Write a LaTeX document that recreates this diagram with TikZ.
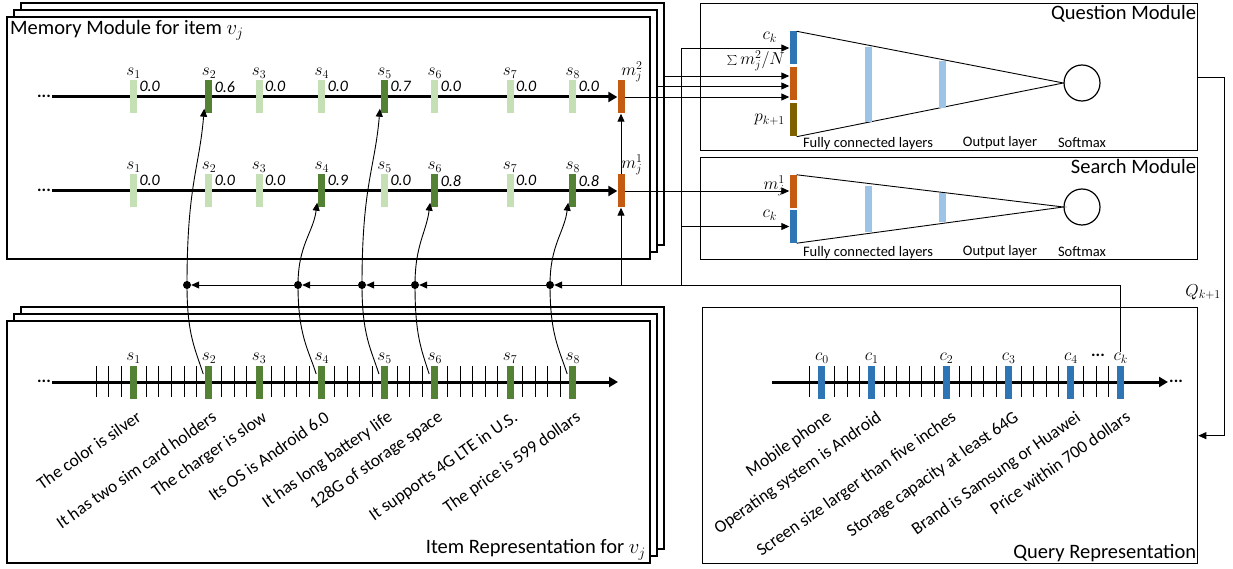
\documentclass[tikz,border=0pt]{standalone}
\usepackage{fontspec}
\setmainfont{Carlito}
\usetikzlibrary{positioning,arrows.meta}

\definecolor{palegreen}{HTML}{C5E0B4}
\definecolor{leafgreen}{HTML}{548235}
\definecolor{rust}{HTML}{C55A11}
\definecolor{steel}{HTML}{2E75B6}
\definecolor{paleblue}{HTML}{9DC3E6}
\definecolor{mud}{HTML}{7F6000}

\begin{document}
\begin{tikzpicture}[x=1pt,y=-1pt,
  modbox/.style={draw,line width=1.3pt,fill=white},
  title/.style={font=\fontsize{20.5}{24}\selectfont,inner sep=2pt},
  bar/.style={fill=#1,minimum width=7pt,minimum height=33pt,inner sep=0pt},
  layer/.style={fill=paleblue,minimum width=7pt,inner sep=0pt},
  tick/.style={line width=0.7pt},
  axis/.style={line width=3pt,-{Triangle[length=9pt,width=10pt]}},
  wire/.style={line width=0.9pt},
  feed/.style={wire,-{Triangle[length=8pt,width=7pt]}},
  jdot/.style={circle,fill,inner sep=0pt,minimum size=8pt},
  slabel/.style={font=\fontsize{18}{21}\selectfont,inner sep=1pt},
  mlab/.style={font=\fontsize{18}{21}\selectfont,inner sep=1pt},
  val/.style={font=\fontsize{16}{19}\selectfont\itshape,inner sep=1pt,anchor=north west},
  dots/.style={font=\fontsize{17}{20}\selectfont\bfseries,inner sep=1pt},
  small/.style={font=\fontsize{14.5}{17}\selectfont,inner sep=0pt,anchor=base},
  factlab/.style={font=\fontsize{17.5}{20}\selectfont,rotate=35,anchor=north east,inner sep=0pt},
  softmax/.style={circle,draw,line width=1.2pt,minimum size=36pt,inner sep=0pt}]
\useasboundingbox (0,0) rectangle (1233,569);

% memory module and item representation stacks
\foreach \d in {14,7,0}
  \draw[modbox] (7+\d,17-\d) rectangle (650+\d,259-\d);
\node[title,anchor=north west] (memtitle) at (8,18) {Memory Module for item $v_j$};
\foreach \d in {14,7,0}
  \draw[modbox] (7+\d,321-\d) rectangle (650+\d,563-\d);
\node[title,anchor=south east] (itemtitle) at (648,562) {Item Representation for $v_j$};

% right side modules
\node[modbox,anchor=north west,minimum width=497pt,minimum height=147pt] (qbox) at (700,3) {};
\node[title,anchor=north east] at (qbox.north east) {Question Module};
\node[modbox,anchor=north west,minimum width=497pt,minimum height=102pt] (sbox) at (700,157) {};
\node[title,anchor=north east] at (sbox.north east) {Search Module};
\node[modbox,anchor=north west,minimum width=495pt,minimum height=256pt] (qrep) at (702,307) {};
\node[title,anchor=south east] at (qrep.south east) {Query Representation};

% memory rows
\node[dots,anchor=east] (topdots) at (52,96) {...};
\node[bar=rust] (m2) at (621,97) {};
\node[mlab] (m2lab) at (632,72) {$m_j^2$};
\draw[axis] (topdots.east |- m2.west) -- (m2.west);
\node[dots,anchor=east] (botdots) at (52,190) {...};
\node[bar=rust] (m1) at (621,191) {};
\node[mlab] (m1lab) at (632,165) {$m_j^1$};
\draw[axis] (botdots.east |- m1.west) -- (m1.west);

\foreach \i/\k/\va/\ca/\vb/\cb in {
  1/3/0.0/palegreen/0.0/palegreen,
  2/9/0.6/leafgreen/0.0/palegreen,
  3/13/0.0/palegreen/0.0/palegreen,
  4/18/0.0/palegreen/0.9/leafgreen,
  5/23/0.7/leafgreen/0.0/palegreen,
  6/27/0.0/palegreen/0.8/leafgreen,
  7/33/0.0/palegreen/0.0/palegreen,
  8/38/0.0/palegreen/0.8/leafgreen}{
  \node[bar=\ca] (top\i) at (96+12.55*\k,97) {};
  \node[slabel,above=1pt of top\i] {$s_{\i}$};
  \node[val] at ([xshift=1pt]top\i.north east) {\va};
  \node[bar=\cb] (bot\i) at (96+12.55*\k,191) {};
  \node[slabel,above=1pt of bot\i] {$s_{\i}$};
  \node[val] at ([xshift=1pt]bot\i.north east) {\vb};
}

% item representation row
\node[dots,anchor=east] (itemdots) at (52,381) {...};
\coordinate (itemend) at (618,382);
\foreach \k in {0,...,38}
  \draw[tick] (96+12.55*\k,366) -- (96+12.55*\k,397);
\draw[axis] (itemdots.east |- itemend) -- (itemend);
\foreach \i/\k/\fact in {
  1/3/The color is silver,
  2/9/It has two sim card holders,
  3/13/The charger is slow,
  4/18/Its OS is Android 6.0,
  5/23/It has long battery life,
  6/27/128G of storage space,
  7/33/It supports 4G LTE in U.S.,
  8/38/The price is 599 dollars}{
  \node[bar=leafgreen] (it\i) at (96+12.55*\k,382) {};
  \node[slabel,above=1pt of it\i] {$s_{\i}$};
  \node[factlab] at ([xshift=-2pt,yshift=-11pt]it\i.south east) {\fact};
}

% query representation row
\coordinate (qstart) at (772,382);
\node[dots,anchor=west] (qdots) at (1168,381) {...};
\foreach \k in {0,...,25}
  \draw[tick] (809.5+12.45*\k,366) -- (809.5+12.45*\k,397);
\draw[axis] (qstart) -- (qdots.west |- qstart);
\foreach \i/\k/\cond in {
  0/1/Mobile phone,
  1/5/Operating system is Android,
  2/11/Screen size larger than five inches,
  3/16/Storage capacity at least 64G,
  4/21/Brand is Samsung or Huawei,
  k/25/Price within 700 dollars}{
  \node[bar=steel] (c\i) at (809.5+12.45*\k,382) {};
  \node[slabel,above=1pt of c\i] (clab\i) {$c_{\i}$};
  \node[factlab] at ([xshift=0pt,yshift=-11pt]c\i.south east) {\cond};
}
\node[dots] (cdots) at (1098,355) {...};

% question module
\node[bar=steel] (qc) at (793,48) {};
\node[bar=rust] (qm) at (793,84) {};
\node[bar=mud] (qp) at (793,120) {};
\node[softmax] (qsoft) at (1082,83) {};
\draw[wire] (qc.north east) -- (qsoft.west) -- (qp.south east);
\node[layer,minimum height=75pt] (qfc) at (868,84.5) {};
\node[layer,minimum height=47pt] (qout) at (942,84.5) {};
\node[small] at ([yshift=4pt]qfc |- qbox.south) {Fully connected layers};
\node[small] at (1000,146.5) {Output layer};
\node[small] at ([yshift=4pt]qsoft |- qbox.south) {Softmax};
\node[mlab,anchor=east] (qclab) at (778,37) {$c_k$};
\node[mlab,anchor=east] (qmlab) at (786,61) {$\sum m_j^2/N$};
\node[mlab,anchor=east] (qplab) at (786,120) {$p_{k+1}$};

% search module
\node[bar=rust] (so) at (793,191.5) {};
\node[bar=steel] (sc) at (793,226.5) {};
\node[softmax] (ssoft) at (1082,207) {};
\draw[wire] (so.north east) -- (ssoft.west) -- (sc.south east);
\node[layer,minimum height=46pt] (sfc) at (868,209) {};
\node[layer,minimum height=29pt] (sout) at (942,208) {};
\node[small] at ([yshift=4pt]sfc |- sbox.south) {Fully connected layers};
\node[small] at (1000,255.5) {Output layer};
\node[small] at ([yshift=4pt]ssoft |- sbox.south) {Softmax};
\node[mlab,anchor=east] (solab) at (786,186) {$m_j^1$};
\node[mlab,anchor=east] (sclab) at (778,215) {$c_k$};

% memory outputs
\draw[feed] (m2.east) -- (m2.east -| qm.west);
\coordinate (mid2) at (657,86);
\coordinate (back2) at (664,76);
\draw[feed] (mid2) -- (mid2 -| qm.west);
\draw[feed] (back2) -- (back2 -| qm.west);
\draw[feed] (m1.east) -- (m1.east -| so.west);
\draw[feed] (m1.north) -- (m2.south);

% attention feedback
\node[jdot] (dot2) at (187,285) {};
\node[jdot] (dot4) at (298,285) {};
\node[jdot] (dot5) at (362,285) {};
\node[jdot] (dot6) at (415,285) {};
\node[jdot] (dot8) at (550,285) {};
\draw[feed] (clabk.north) |- (dot8);
\draw[feed] (dot8) -- (dot6);
\draw[feed] (dot6) -- (dot5);
\draw[feed] (dot5) -- (dot4);
\draw[feed] (dot4) -- (dot2);
\draw[feed] (m1.south |- dot8) -- (m1.south);
\coordinate (split) at (681,285);
\draw[feed] (split) |- (qc.west);
\draw[feed] (split |- sc.west) -- (sc.west);

\draw[feed] (dot2.center) .. controls +(0,-100) and +(-5,60) .. ([xshift=-1pt,yshift=5pt]top2.south west);
\draw[feed] (dot5.center) .. controls +(0,-100) and +(-5,60) .. ([xshift=-1pt,yshift=5pt]top5.south west);
\draw[feed] (dot4.center) .. controls +(0,-40) and +(-4,30) .. ([xshift=-1pt,yshift=5pt]bot4.south west);
\draw[feed] (dot6.center) .. controls +(0,-40) and +(-4,30) .. ([xshift=-1pt,yshift=5pt]bot6.south west);
\draw[feed] (dot8.center) .. controls +(0,-40) and +(-4,30) .. ([xshift=-1pt,yshift=5pt]bot8.south west);
\foreach \i in {2,4,5,6,8}
  \draw[wire] (dot\i.center) .. controls +(0,50) and +(-8,-25) .. ([xshift=-2pt,yshift=8pt]it\i.west);

% query loop back
\draw[feed] (qbox.east) -- ++(26,0) |- (qrep.east);
\node[mlab,anchor=east] (qnext) at (1222,292) {$Q_{k+1}$};
\end{tikzpicture}
\end{document}
